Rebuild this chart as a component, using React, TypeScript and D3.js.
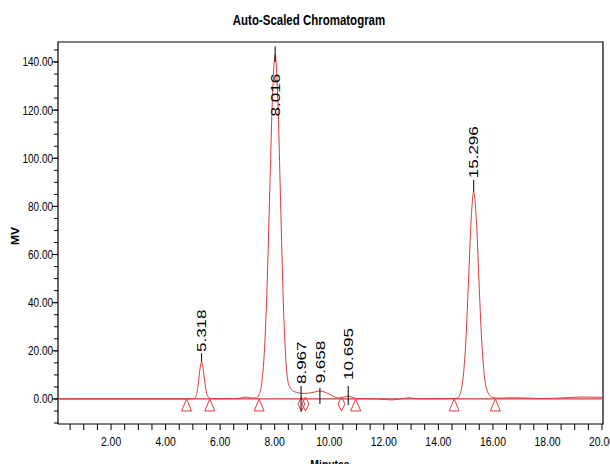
import React from 'react';
import * as d3 from 'd3';

// trace (minutes, mV)
const traceTime = [
  0, 4.8, 4.95, 5.07, 5.12, 5.17, 5.22, 5.27, 5.318, 5.37, 5.42, 5.47, 5.52, 5.57, 5.65, 5.8,
  6.2, 6.7, 6.95, 7.15, 7.32, 7.42, 7.52, 7.62, 7.72, 7.82, 7.92, 8.016, 8.116, 8.216, 8.316,
  8.416, 8.5, 8.6, 8.7, 8.8, 8.967, 9.1, 9.3, 9.5, 9.658, 9.8, 10.0, 10.2, 10.35, 10.5, 10.695,
  10.85, 11.0, 11.3, 11.8, 12.3, 12.6, 12.95, 13.2, 13.8, 14.5, 14.6, 14.7, 14.8, 14.9, 15.0,
  15.1, 15.2, 15.296, 15.4, 15.5, 15.6, 15.7, 15.8, 15.9, 16.0, 16.2, 16.6, 17.2, 17.8, 18.3,
  18.8, 19.3, 20.0,
];
const traceMv = [
  0, 0, 0.1, 0.3, 1.3, 3.9, 8.4, 13.3, 15.5, 13.3, 8.6, 4.5, 1.8, 0.7, 0.3, 0.1,
  0.1, 0.3, 0.8, 0.4, 0.4, 1.6, 6.3, 19.4, 46.5, 87, 126, 143, 124, 82, 40,
  15, 6.5, 4.2, 3.2, 2.7, 2.4, 2.3, 2.5, 3.0, 3.3, 3.0, 2.0, 0.8, 0.4, 0.7, 1.2,
  0.7, 0.2, 0.1, 0, -0.4, 0, 0.5, 0.1, 0.1, 0.2, 0.2, 0.4, 2.1, 7.9, 22.4,
  47.4, 74, 86, 73, 46, 22, 8.5, 3.2, 1.3, 0.6, 0.3, 0.5, 0.4, 0.2, 0.3,
  0.6, 0.8, 0.7,
];

// peak labels
const peakRt = [5.318, 8.016, 8.967, 9.658, 10.695, 15.296];
const peakLabel = ['5.318', '8.016', '8.967', '9.658', '10.695', '15.296'];
const peakLineLow = [15.5, 140, -5.4, -2.1, -2.5, 86];
const peakLineHigh = [19, 146.5, 5.4, 4.6, 5.4, 91];
const peakTextBase = [19.5, 117.4, 6.2, 6.5, 7.9, 91.7];

// integration markers
const triangleTimes = [4.77, 5.62, 7.43, 10.97, 14.58, 16.09];
const diamondTimes = [8.98, 9.13, 10.45];

const yMajorTicks = [0, 20, 40, 60, 80, 100, 120, 140];
const yMinorTicks = d3.range(-10, 146, 5);
const xMajorTicks = [2, 4, 6, 8, 10, 12, 14, 16, 18, 20];
const xMinorTicks = d3.range(0.5, 20.01, 0.5);

const W = 610;
const H = 464;
const left = 58;
const right = 603;
const top = 42;
const bottom = 424;
const RED = '#dc3a3c';
const FONT = "'Liberation Sans', Arial, sans-serif";

export default function App() {
  const x = d3.scaleLinear().domain([0, 20]).range([56.5, 602]);
  const y = d3.scaleLinear().domain([-10.4, 148.3]).range([bottom, top]);

  const line = d3
    .line<number>()
    .x((d, i) => x(traceTime[i]))
    .y((d) => y(d))
    .curve(d3.curveMonotoneX);

  return (
    <svg
      width={W}
      height={H}
      style={{ position: 'absolute', left: 0, top: 0, background: '#fff' }}
      fontFamily={FONT}
    >
      <defs>
        <clipPath id="plot">
          <rect x={left} y={top} width={right - left} height={bottom - top} />
        </clipPath>
      </defs>

      {/* title */}
      <text
        transform={`translate(309,25) scale(0.82,1)`}
        textAnchor="middle"
        fontWeight="bold"
        fontSize={14}
      >
        Auto-Scaled Chromatogram
      </text>

      {/* frame */}
      <path
        d={`M${left},${bottom}V${top}H${right}V${bottom}H${left}`}
        fill="none"
        stroke="#000"
        strokeWidth={1.2}
      />

      {/* y axis ticks */}
      {yMinorTicks.map((v) => (
        <line key={'ym' + v} x1={left - 4} x2={left} y1={y(v)} y2={y(v)} stroke="#000" />
      ))}
      {yMajorTicks.map((v) => (
        <g key={'yl' + v}>
          <line x1={left - 6} x2={left} y1={y(v)} y2={y(v)} stroke="#000" />
          <text
            transform={`translate(${left - 5},${y(v)}) scale(0.8,1)`}
            textAnchor="end"
            dy="0.36em"
            fontSize={12.5}
          >
            {v.toFixed(2)}
          </text>
        </g>
      ))}

      {/* x axis ticks */}
      {xMinorTicks.map((t) => (
        <line key={'xm' + t} x1={x(t)} x2={x(t)} y1={bottom} y2={bottom + 6} stroke="#000" />
      ))}
      {xMajorTicks.map((t) => (
        <text
          key={'xl' + t}
          transform={`translate(${x(t)},446) scale(0.8,1)`}
          textAnchor="middle"
          fontSize={13}
        >
          {t.toFixed(2)}
        </text>
      ))}

      {/* axis titles */}
      <text
        transform={`translate(19,236) scale(0.85,1) rotate(-90)`}
        textAnchor="middle"
        fontWeight="bold"
        fontSize={12}
      >
        MV
      </text>
      <text
        transform={`translate(330,469) scale(0.8,1)`}
        textAnchor="middle"
        fontWeight="bold"
        fontSize={13}
      >
        Minutes
      </text>

      <g clipPath="url(#plot)">
        {/* baseline */}
        <line x1={left} x2={right} y1={y(0)} y2={y(0)} stroke={RED} strokeWidth={1.2} />
        {/* trace */}
        <path d={line(traceMv) ?? ''} fill="none" stroke={RED} strokeWidth={1} />

        {/* markers */}
        {triangleTimes.map((t) => (
          <path
            key={'tr' + t}
            d={`M${x(t)},${y(0)}L${x(t) + 5},${y(0) + 12}L${x(t) - 5},${y(0) + 12}Z`}
            fill="#fff"
            stroke={RED}
            strokeWidth={1}
          />
        ))}
        {diamondTimes.map((t) => (
          <path
            key={'dm' + t}
            d={`M${x(t)},${y(0) - 2}L${x(t) + 3.5},${y(0) + 5}L${x(t)},${y(0) + 12}L${x(t) - 3.5},${y(0) + 5}Z`}
            fill="none"
            stroke={RED}
            strokeWidth={1}
          />
        ))}

        {/* peak labels */}
        {peakRt.map((t, i) => (
          <g key={'pk' + t}>
            <line
              x1={x(t)}
              x2={x(t)}
              y1={y(peakLineLow[i])}
              y2={y(peakLineHigh[i])}
              stroke="#000"
              strokeWidth={1}
            />
            <text
              transform={`translate(${x(t)},${y(peakTextBase[i])}) scale(0.75,1) rotate(-90)`}
              dy="0.36em"
              fontSize={17}
              fill="#000"
            >
              {peakLabel[i]}
            </text>
          </g>
        ))}
      </g>
    </svg>
  );
}
